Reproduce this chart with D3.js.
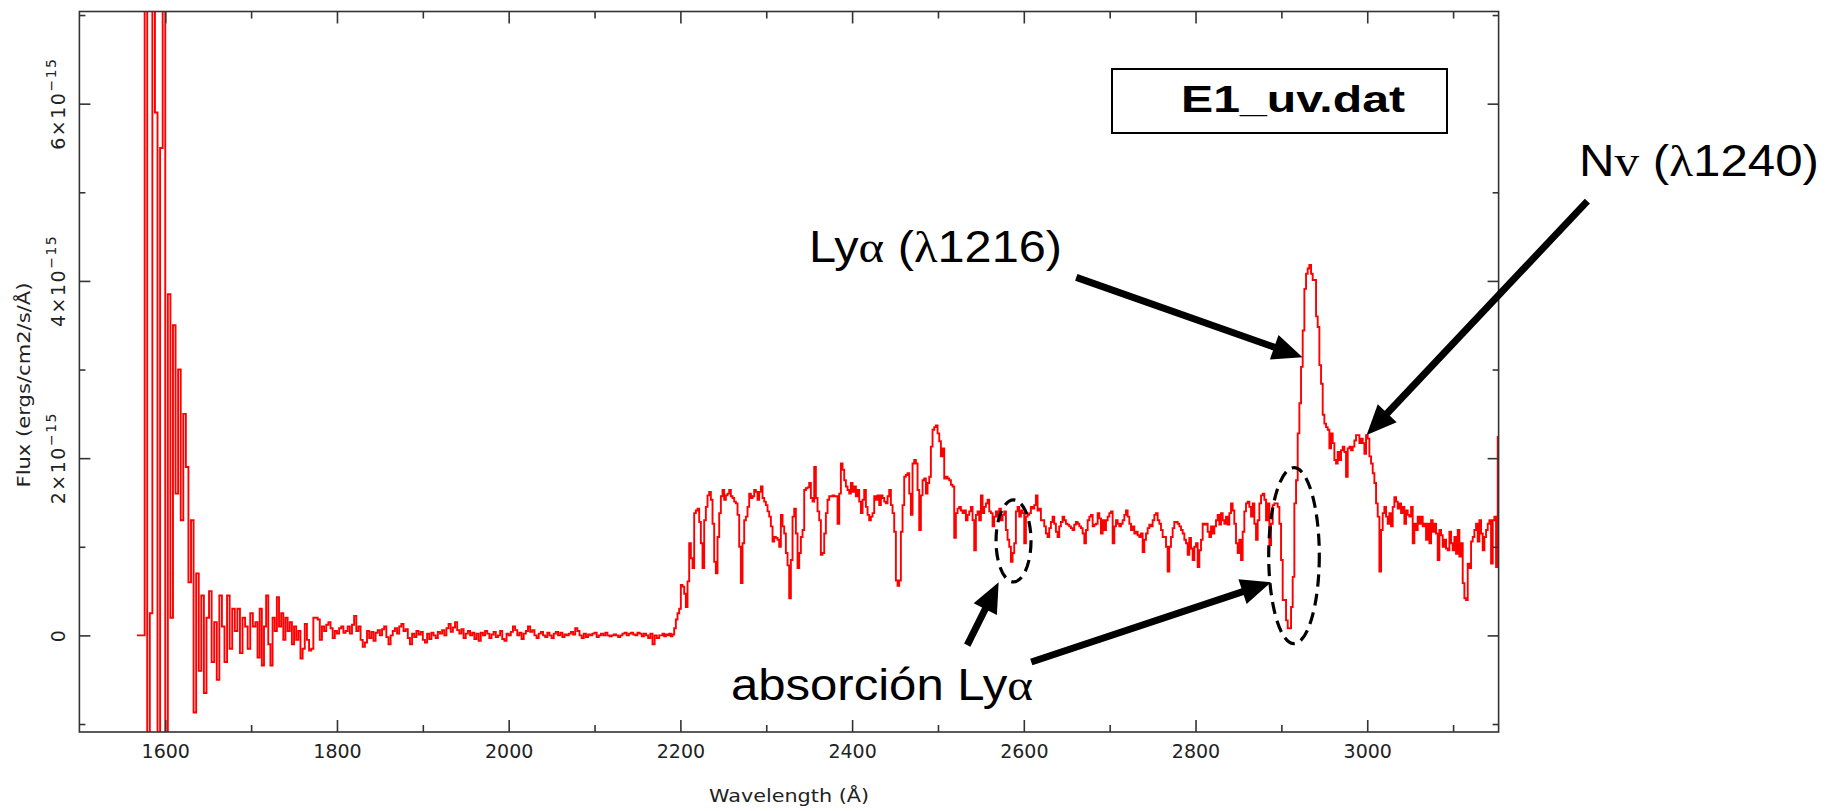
<!DOCTYPE html>
<html>
<head>
<meta charset="utf-8">
<script src="https://cdn.jsdelivr.net/npm/d3@7"></script>
<style>
  html, body { margin: 0; padding: 0; background: #fff; }
  svg { display: block; }
</style>
</head>
<body>
<svg id="chart" width="1832" height="811"></svg>
<script>
// E1_uv.dat — flux in units of 1e-15 ergs/cm2/s/Å, stored per wavelength segment.
// Each segment: first bin start (Å) and bin width (Å).
const segStart = [1567, 1705, 2175.3, 2662.7, 2862.7];
const segStep  = [3, 2.5, 1.9415, 1.9415, 1.9415];

// 1567–1705 Å: detector edge, saturated spikes then decaying noise
const fluxSeg1 = [0, 0, 0, 12, -4, 0.25, 12, 5.9, -4, 5.5, 12, -4, 3.85, 0.2, 3.5, 1.6,
  3.0, 1.3, 2.5, 1.9, 0.6, 1.3, -0.87, 0.7, -0.4, 0.45, -0.65, 0.2, 0.5, -0.3, 0.15, -0.5,
  0.45, 0.1, -0.3, 0.45, -0.15, 0.3, 0.05, 0.3, -0.2, 0.2, 0.1, -0.15, 0.25, 0.1];

// 1705–2175 Å: no flux below the Lyman limit of the absorber, only noise
const fluxSeg2 = [0.15, -0.25, 0.3, -0.34, 0.1, 0.45, -0.1, -0.34, 0.2, 0.05, 0.43, 0.1,
  0.25, -0.05, 0.2, 0.05, 0.15, -0.1, 0.1, -0.05, 0.05, -0.26, -0.15, 0.13, -0.05, -0.17,
  -0.15, 0.2, 0.2, 0.18, -0.05, 0.1, 0.05, 0.12, 0.15, 0.08, -0.03, 0.05, 0.02, 0.08, 0.1,
  0.03, 0.05, 0.1, 0.02, 0.12, 0.22, 0.05, 0.1, -0.05, -0.13, -0.08, 0.05, -0.03, 0.04,
  -0.06, 0.03, 0.06, 0.0, 0.07, 0.1, -0.02, -0.1, 0.0, 0.05, 0.08, 0.02, 0.1, 0.13, 0.05,
  0.07, -0.03, -0.1, 0.02, -0.02, 0.05, 0.01, 0.04, -0.05, -0.08, 0.02, -0.04, 0.03, 0.0,
  -0.03, 0.04, 0.02, 0.06, 0.0, 0.08, 0.13, 0.04, 0.09, 0.15, 0.06, 0.02, 0.07, -0.03, 0.02,
  0.05, 0.0, 0.03, -0.04, 0.02, -0.06, 0.03, 0.0, 0.05, 0.02, -0.03, 0.01, 0.04, -0.02, 0.0,
  0.05, -0.04, -0.06, 0.02, 0.0, 0.04, 0.1, 0.06, 0.0, 0.03, -0.04, 0.02, 0.05, 0.1, 0.04,
  0.06, 0.0, -0.03, 0.02, 0.04, 0.0, -0.02, 0.03, 0.0, -0.03, 0.02, 0.04, 0.0, 0.03, -0.02,
  0.01, 0.0, 0.02, 0.04, 0.01, 0.08, 0.05, 0.0, -0.03, 0.02, -0.02, 0.01, 0.0, 0.02, 0.03,
  -0.02, 0.0, 0.02, 0.0, 0.03, 0.0, -0.01, 0.0, 0.01, 0.0, -0.02, 0.0, 0.02, 0.03, 0.0, 0.02,
  0.03, 0.01, 0.0, 0.03, 0.02, -0.01, 0.02, 0.0, -0.03, 0.02, -0.1, 0.0, -0.03];

// 2175–2663 Å: Lyman-alpha forest
const fluxSeg3 = [0.00, 0.00, 0.02, -0.01, 0.01, 0.00, 0.02, -0.01, 0.01, 0.08, 0.18, 0.25,
  0.30, 0.57, 0.55, 0.47, 0.32, 0.61, 1.04, 0.87, 0.76, 1.38, 1.41, 1.43, 1.28, 1.04, 0.76,
  1.30, 1.45, 1.58, 1.62, 1.53, 1.26, 0.83, 0.70, 1.11, 1.38, 1.57, 1.64, 1.53, 1.58, 1.60,
  1.64, 1.57, 1.55, 1.51, 1.49, 1.36, 1.00, 0.59, 1.04, 1.30, 1.34, 1.45, 1.60, 1.55, 1.57,
  1.64, 1.62, 1.53, 1.62, 1.68, 1.55, 1.51, 1.47, 1.40, 1.34, 1.23, 1.06, 1.11, 1.10, 1.08,
  1.00, 1.36, 1.23, 1.15, 0.93, 0.79, 0.42, 0.85, 1.34, 1.43, 1.15, 0.76, 0.93, 1.11, 1.19,
  1.64, 1.66, 1.67, 1.72, 1.55, 1.51, 1.90, 1.55, 1.40, 1.30, 0.91, 0.93, 1.15, 1.38, 1.53,
  1.57, 1.57, 1.58, 1.57, 1.57, 1.26, 1.60, 1.94, 1.87, 1.75, 1.68, 1.64, 1.60, 1.72, 1.62,
  1.68, 1.57, 1.64, 1.51, 1.38, 1.53, 1.64, 1.45, 1.36, 1.30, 1.34, 1.38, 1.57, 1.53, 1.58,
  1.47, 1.58, 1.55, 1.51, 1.49, 1.57, 1.64, 1.47, 1.38, 1.17, 0.62, 0.56, 0.62, 1.17, 1.47,
  1.79, 1.81, 1.83, 1.60, 1.36, 1.94, 1.98, 1.94, 1.64, 1.19, 1.58, 1.75, 1.77, 1.60, 1.72,
  1.79, 2.13, 2.32, 2.35, 2.37, 2.28, 2.19, 2.02, 2.11, 1.77, 1.79, 1.77, 1.75, 1.70, 1.68,
  1.10, 1.38, 1.43, 1.45, 1.41, 1.38, 1.41, 1.30, 1.36, 1.40, 1.45, 1.30, 0.96, 1.36, 1.40,
  1.30, 1.58, 1.38, 1.45, 1.49, 1.53, 1.40, 1.38, 1.23, 1.34, 1.40, 1.34, 1.43, 1.30, 1.36,
  1.40, 1.19, 1.08, 1.00, 0.83, 0.93, 1.04, 1.40, 1.45, 1.34, 1.41, 1.38, 1.04, 1.34, 1.36,
  1.38, 1.45, 1.43, 1.47, 1.58, 1.41, 1.43, 1.30, 1.30, 1.23, 1.15, 1.11, 1.21, 1.28, 1.34,
  1.26, 1.17, 1.11, 1.23, 1.28, 1.34, 1.30, 1.26, 1.25, 1.23, 1.21, 1.19, 1.25, 1.28];

// 2663–2863 Å: continuum approaching the emission line
const fluxSeg4 = [1.26, 1.23, 1.21, 1.15, 1.04, 1.19, 1.30, 1.34, 1.36, 1.23, 1.25, 1.26,
  1.38, 1.32, 1.15, 1.30, 1.19, 1.30, 1.34, 1.38, 1.40, 1.04, 1.23, 1.30, 1.26, 1.23, 1.26,
  1.30, 1.36, 1.41, 1.34, 1.26, 1.19, 1.23, 1.15, 1.17, 1.13, 1.11, 1.15, 0.94, 1.08, 1.15,
  1.21, 1.25, 1.23, 1.30, 1.36, 1.38, 1.30, 1.26, 1.19, 1.11, 1.11, 1.00, 0.72, 1.00, 1.11,
  1.21, 1.28, 1.28, 1.26, 1.23, 1.19, 1.15, 1.08, 1.04, 0.91, 1.10, 0.98, 0.85, 1.00, 1.04,
  0.77, 0.96, 1.08, 1.26, 1.25, 1.26, 1.17, 1.11, 1.23, 1.15, 1.23, 1.30, 1.36, 1.25, 1.38,
  1.30, 1.26, 1.34, 1.25, 1.38, 1.49, 1.41, 1.26, 1.04, 0.93, 1.08, 0.85, 1.17, 1.40, 1.49,
  1.51];

// 2863–3154 Å: Lyα absorption trough, Lyα and N V emission, red continuum
const fluxSeg5 = [1.45, 1.34, 1.49, 1.26, 1.08, 1.30, 1.49, 1.58, 1.60, 1.53, 1.30, 1.49,
  1.02, 1.26, 1.47, 1.49, 1.49, 1.45, 1.26, 0.85, 0.40, 0.40, 0.17, 0.08, 0.08, 0.32, 0.66,
  1.49, 1.75, 2.28, 2.62, 3.03, 3.44, 3.91, 4.08, 4.14, 4.18, 4.08, 4.01, 4.01, 3.60, 3.48,
  3.05, 2.84, 2.49, 2.39, 2.35, 2.32, 2.11, 2.28, 2.17, 1.98, 1.94, 2.07, 1.98, 2.09, 2.13,
  2.07, 1.79, 2.11, 2.13, 2.09, 2.13, 2.20, 2.26, 2.26, 2.17, 2.22, 2.17, 2.05, 2.26, 2.22,
  2.02, 1.94, 1.83, 1.72, 1.49, 1.34, 0.72, 1.19, 1.38, 1.45, 1.34, 1.26, 1.38, 1.23, 1.45,
  1.56, 1.51, 1.43, 1.49, 1.38, 1.45, 1.26, 1.41, 1.36, 1.34, 1.45, 1.04, 1.26, 1.19, 1.34,
  1.26, 1.34, 1.23, 1.26, 1.08, 1.26, 1.04, 1.30, 1.17, 1.26, 1.15, 0.85, 1.19, 1.13, 1.00,
  1.08, 0.98, 0.96, 1.17, 1.04, 0.96, 1.11, 0.92, 1.19, 0.89, 1.04, 0.59, 0.42, 0.40, 0.81,
  0.76, 1.06, 1.11, 1.19, 1.26, 1.06, 1.30, 1.15, 0.96, 1.11, 1.19, 1.26, 1.30, 0.81, 1.30,
  1.34, 0.77, 2.24];

const fluxSegments = [fluxSeg1, fluxSeg2, fluxSeg3, fluxSeg4, fluxSeg5];

// Axis ticks and labels
const xMajorTicks = [1600, 1800, 2000, 2200, 2400, 2600, 2800, 3000];
const xMinorTicks = [1700, 1900, 2100, 2300, 2500, 2700, 2900, 3100];
const yMajorTicks = [0, 2, 4, 6];
const yMinorTicks = [-1, 1, 3, 5, 7];
const yTickMantissa = ["0", "2×10", "4×10", "6×10"];
const yTickExponent = ["", "−15", "−15", "−15"];

// Line identifications: arrow tips / tails in (Å, flux)
const arrowTips  = [[2924.6, 3.14], [2999.3, 2.26], [2570.7, 0.60], [2887.9, 0.60]];
const arrowTails = [[2661.1, 4.04], [3256.4, 4.90], [2534.1, -0.11], [2608.7, -0.30]];
const absorptionCenters = [[2588, 1.066], [2914.7, 0.90]];

// ---------------------------------------------------------------------------
const svg = d3.select("#chart");
const W = 1832, H = 811;
const plot = { left: 79.4, right: 1498.6, top: 11.5, bottom: 732 };

const x = d3.scaleLinear().domain([1500, 3153]).range([plot.left, plot.right]);
const y = d3.scaleLinear().domain([-1.09, 7.04]).range([plot.bottom, plot.top]);

svg.append("rect").attr("width", W).attr("height", H).attr("fill", "#fff");

svg.append("defs").append("clipPath").attr("id", "plotClip")
  .append("rect")
  .attr("x", plot.left).attr("y", plot.top)
  .attr("width", plot.right - plot.left).attr("height", plot.bottom - plot.top);

// Build step points: each bin begins at its wavelength; a segment stops where the next begins
const points = [];
fluxSegments.forEach((vals, i) => {
  const next = segStart[i + 1];
  vals.forEach((v, k) => {
    const w = segStart[i] + k * segStep[i];
    if (next === undefined || w < next) points.push([w, v]);
  });
});
{
  const li = fluxSegments.length - 1;
  const lastVals = fluxSegments[li];
  points.push([segStart[li] + lastVals.length * segStep[li], lastVals[lastVals.length - 1]]);
}

const spectrumLine = d3.line()
  .x(d => x(d[0]))
  .y(d => y(d[1]))
  .curve(d3.curveStepAfter);

svg.append("path")
  .datum(points)
  .attr("clip-path", "url(#plotClip)")
  .attr("fill", "none")
  .attr("stroke", "#ff0000")
  .attr("stroke-width", 1.9)
  .attr("stroke-linejoin", "miter")
  .attr("d", spectrumLine);

// ---- frame and ticks ----
const axisColor = "#333";
const tickFont = "'DejaVu Sans', sans-serif";

function styleAxis(g) {
  g.select(".domain").remove();
  g.selectAll(".tick line").attr("stroke", axisColor).attr("stroke-width", 1.6);
}

const gBottom = svg.append("g").attr("transform", `translate(0,${plot.bottom})`)
  .call(d3.axisBottom(x).tickValues(xMajorTicks).tickSize(-12).tickPadding(13)
    .tickFormat(d3.format("d")));
styleAxis(gBottom);
gBottom.selectAll(".tick text")
  .attr("font-family", tickFont).attr("font-size", 19).attr("fill", "#222");

svg.append("g").attr("transform", `translate(0,${plot.bottom})`)
  .call(d3.axisBottom(x).tickValues(xMinorTicks).tickSize(-7).tickFormat(""))
  .call(styleAxis);

svg.append("g").attr("transform", `translate(0,${plot.top})`)
  .call(d3.axisTop(x).tickValues(xMajorTicks).tickSize(-12).tickFormat(""))
  .call(styleAxis);
svg.append("g").attr("transform", `translate(0,${plot.top})`)
  .call(d3.axisTop(x).tickValues(xMinorTicks).tickSize(-7).tickFormat(""))
  .call(styleAxis);

svg.append("g").attr("transform", `translate(${plot.left},0)`)
  .call(d3.axisLeft(y).tickValues(yMajorTicks).tickSize(-11).tickFormat(""))
  .call(styleAxis);
svg.append("g").attr("transform", `translate(${plot.left},0)`)
  .call(d3.axisLeft(y).tickValues(yMinorTicks).tickSize(-6).tickFormat(""))
  .call(styleAxis);
svg.append("g").attr("transform", `translate(${plot.right},0)`)
  .call(d3.axisRight(y).tickValues(yMajorTicks).tickSize(-11).tickFormat(""))
  .call(styleAxis);
svg.append("g").attr("transform", `translate(${plot.right},0)`)
  .call(d3.axisRight(y).tickValues(yMinorTicks).tickSize(-6).tickFormat(""))
  .call(styleAxis);

svg.append("rect")
  .attr("x", plot.left).attr("y", plot.top)
  .attr("width", plot.right - plot.left).attr("height", plot.bottom - plot.top)
  .attr("fill", "none").attr("stroke", axisColor).attr("stroke-width", 1.6);

// rotated y tick labels with exponent
yMajorTicks.forEach((v, i) => {
  const t = svg.append("text")
    .attr("transform", `translate(65,${y(v)}) rotate(-90)`)
    .attr("text-anchor", "middle")
    .attr("font-family", tickFont).attr("font-size", 19).attr("fill", "#222")
    .attr("letter-spacing", 1.5);
  t.append("tspan").text(yTickMantissa[i]);
  if (yTickExponent[i]) {
    t.append("tspan").attr("dy", -9).attr("font-size", 14).text(yTickExponent[i]);
  }
});

// axis titles
svg.append("text")
  .attr("x", (plot.left + plot.right) / 2).attr("y", 801.5)
  .attr("text-anchor", "middle")
  .attr("font-family", tickFont).attr("font-size", 18).attr("fill", "#222")
  .attr("textLength", 160).attr("lengthAdjust", "spacingAndGlyphs")
  .text("Wavelength (Å)");

svg.append("text")
  .attr("transform", `translate(30,385) rotate(-90)`)
  .attr("text-anchor", "middle")
  .attr("font-family", tickFont).attr("font-size", 18).attr("fill", "#222")
  .attr("textLength", 205).attr("lengthAdjust", "spacingAndGlyphs")
  .text("Flux (ergs/cm2/s/Å)");

// ---- annotations ----
const sans = "'Liberation Sans', Arial, sans-serif";
const serif = "'Liberation Serif', 'Times New Roman', serif";

// file name box
svg.append("rect")
  .attr("x", 1112).attr("y", 69).attr("width", 335).attr("height", 64)
  .attr("fill", "#fff").attr("stroke", "#000").attr("stroke-width", 2);
svg.append("text")
  .attr("x", 1293).attr("y", 112).attr("text-anchor", "middle")
  .attr("font-family", sans).attr("font-weight", "bold").attr("font-size", 36)
  .attr("textLength", 224).attr("lengthAdjust", "spacingAndGlyphs")
  .text("E1_uv.dat");

function label(xp, yp, len, parts) {
  const t = svg.append("text")
    .attr("x", xp).attr("y", yp)
    .attr("font-family", sans).attr("font-size", 44).attr("fill", "#000")
    .attr("textLength", len).attr("lengthAdjust", "spacingAndGlyphs");
  parts.forEach(([s, greek]) => {
    t.append("tspan").attr("font-family", greek ? serif : sans).text(s);
  });
}
label(809, 262, 253, [["Ly"], ["α", true], [" ("], ["λ", true], ["1216)"]]);
label(1579, 176, 240, [["N"], ["v", true], [" ("], ["λ", true], ["1240)"]]);
label(731, 700, 302, [["absorción Ly"], ["α", true]]);

// arrows
const headLen = 30, headHalf = 13;
arrowTips.forEach((tip, i) => {
  const tx = x(tip[0]), ty = y(tip[1]);
  const sx = x(arrowTails[i][0]), sy = y(arrowTails[i][1]);
  const dx = tx - sx, dy = ty - sy, L = Math.hypot(dx, dy);
  const ux = dx / L, uy = dy / L;
  const bx = tx - ux * headLen, by = ty - uy * headLen;
  svg.append("line")
    .attr("x1", sx).attr("y1", sy).attr("x2", bx + ux * 2).attr("y2", by + uy * 2)
    .attr("stroke", "#000").attr("stroke-width", 7);
  svg.append("path")
    .attr("d", `M${tx},${ty}L${bx - uy * headHalf},${by + ux * headHalf}L${bx + uy * headHalf},${by - ux * headHalf}Z`)
    .attr("fill", "#000");
});

// dashed rings around the absorption features
const ringRadii = [[17.5, 41], [25.3, 88]];
absorptionCenters.forEach((c, i) => {
  svg.append("ellipse")
    .attr("cx", x(c[0])).attr("cy", y(c[1]))
    .attr("rx", ringRadii[i][0]).attr("ry", ringRadii[i][1])
    .attr("fill", "none").attr("stroke", "#000").attr("stroke-width", 3.2)
    .attr("stroke-dasharray", "12 7");
});
</script>
</body>
</html>
